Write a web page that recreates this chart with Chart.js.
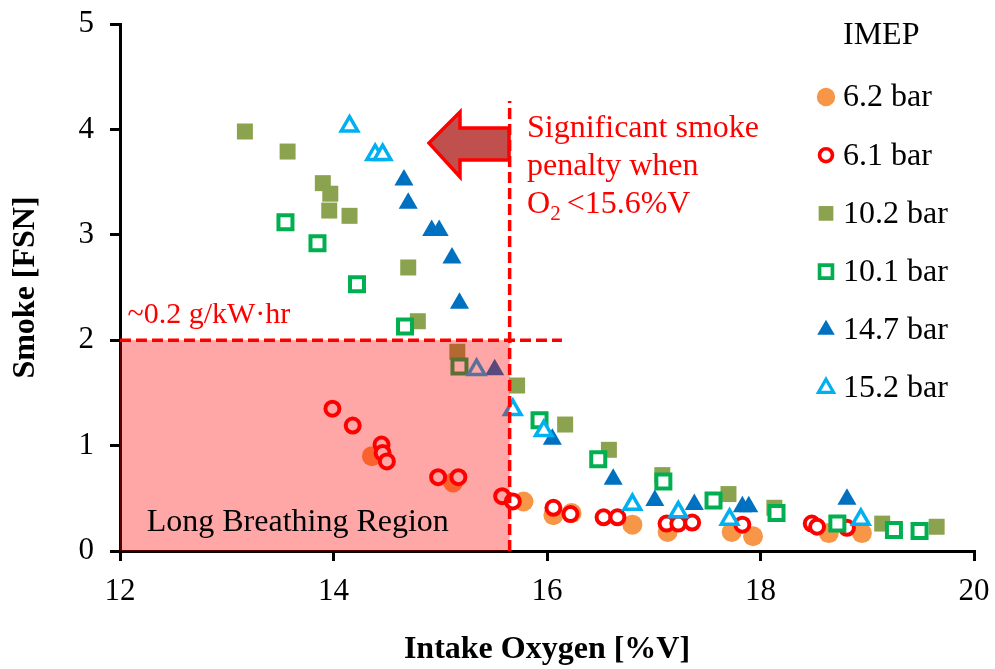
<!DOCTYPE html>
<html>
<head>
<meta charset="utf-8">
<script src="https://cdn.jsdelivr.net/npm/chart.js"></script>
<style>
  body { margin: 0; background: #fff; }
  #wrap { width: 995px; height: 669px; }
</style>
</head>
<body>
<div id="wrap"><canvas id="myChart" width="995" height="669"></canvas></div>
<script>
const SERIF = '"Times New Roman", "Liberation Serif", serif';

// IMEP series, intake O2 [%V] vs smoke [FSN]
const seriesNames = ["6.2 bar", "6.1 bar", "10.2 bar", "10.1 bar", "14.7 bar", "15.2 bar"];

const o2_62 = [14.36, 15.12, 15.78, 16.06, 16.23, 16.80, 17.13, 17.73, 17.93, 18.64, 18.95];
const smoke_62 = [0.90, 0.65, 0.47, 0.34, 0.36, 0.25, 0.18, 0.18, 0.14, 0.17, 0.17];

const o2_61 = [13.99, 14.18, 14.45, 14.46, 14.50, 14.98, 15.17, 15.58, 15.68, 16.06, 16.22, 16.53, 16.66, 17.12, 17.23, 17.36, 17.83, 18.48, 18.53, 18.81];
const smoke_61 = [1.35, 1.19, 1.01, 0.93, 0.85, 0.70, 0.70, 0.52, 0.47, 0.41, 0.35, 0.32, 0.32, 0.26, 0.26, 0.27, 0.25, 0.26, 0.23, 0.22];

const o2_102 = [13.17, 13.57, 13.90, 13.97, 13.96, 14.15, 14.70, 14.79, 15.16, 15.72, 16.17, 16.58, 17.08, 17.70, 18.13, 19.14, 19.65];
const smoke_102 = [3.98, 3.79, 3.49, 3.39, 3.23, 3.18, 2.69, 2.18, 1.89, 1.57, 1.20, 0.96, 0.72, 0.54, 0.41, 0.26, 0.23];

const o2_101 = [13.55, 13.85, 14.22, 14.67, 15.18, 15.93, 16.48, 17.09, 17.56, 18.15, 18.72, 19.25, 19.49];
const smoke_101 = [3.12, 2.92, 2.53, 2.13, 1.75, 1.24, 0.87, 0.66, 0.48, 0.36, 0.26, 0.20, 0.19];

const o2_147 = [14.66, 14.70, 14.92, 14.99, 15.11, 15.18, 15.51, 16.05, 16.62, 17.01, 17.38, 17.83, 17.89, 18.81];
const smoke_147 = [3.52, 3.30, 3.04, 3.04, 2.78, 2.35, 1.72, 1.06, 0.68, 0.48, 0.44, 0.42, 0.42, 0.49];

const o2_152 = [14.15, 14.39, 14.46, 15.34, 15.68, 15.97, 16.80, 17.23, 17.71, 18.94];
const smoke_152 = [4.03, 3.76, 3.76, 1.72, 1.34, 1.14, 0.44, 0.37, 0.30, 0.30];

const xTicks = [12, 14, 16, 18, 20];
const yTicks = [0, 1, 2, 3, 4, 5];

// thresholds used by the annotations
const limitO2 = 15.65;
const limitSmoke = 2;

const allX = [o2_62, o2_61, o2_102, o2_101, o2_147, o2_152];
const allY = [smoke_62, smoke_61, smoke_102, smoke_101, smoke_147, smoke_152];

const looks = [
  { style: "circle", r: 10, bg: "#F79646", border: "#F79646", bw: 0 },
  { style: "circle", r: 7, bg: "#FFFFFF", border: "#FF0000", bw: 4 },
  { style: "rect", r: 11.3, bg: "#8BA24E", border: "#8BA24E", bw: 0 },
  { style: "rect", r: 9.9, bg: "#FFFFFF", border: "#00B050", bw: 4 },
  { style: "triangle", r: 11, bg: "#0070C0", border: "#0070C0", bw: 0 },
  { style: "triangle", r: 9.5, bg: "#FFFFFF", border: "#00B0F0", bw: 3.5 },
];

const datasets = seriesNames.map((name, i) => ({
  label: name,
  data: allX[i].map((v, j) => ({ x: v, y: allY[i][j] })),
  pointStyle: looks[i].style,
  pointRadius: looks[i].r,
  pointBackgroundColor: looks[i].bg,
  pointBorderColor: looks[i].border,
  pointBorderWidth: looks[i].bw,
  showLine: false,
  clip: false,
  order: 10 - i,
}));

function marker(ctx, look, x, y, scale) {
  const r = look.r * scale;
  ctx.beginPath();
  if (look.style === "circle") {
    ctx.arc(x, y, r, 0, Math.PI * 2);
  } else if (look.style === "rect") {
    const s = Math.SQRT1_2 * r;
    ctx.rect(x - s, y - s, 2 * s, 2 * s);
  } else {
    let a = 0;
    ctx.moveTo(x + Math.sin(a) * r, y - Math.cos(a) * r);
    a += Math.PI * 2 / 3;
    ctx.lineTo(x + Math.sin(a) * r, y - Math.cos(a) * r);
    a += Math.PI * 2 / 3;
    ctx.lineTo(x + Math.sin(a) * r, y - Math.cos(a) * r);
    ctx.closePath();
  }
  ctx.fillStyle = look.bg;
  ctx.fill();
  if (look.bw > 0) {
    ctx.lineWidth = look.bw * scale;
    ctx.strokeStyle = look.border;
    ctx.stroke();
  }
}

const overlay = {
  id: "overlay",
  afterDatasetsDraw(chart) {
    const ctx = chart.ctx;
    const sx = chart.scales.x, sy = chart.scales.y;
    const px = v => sx.getPixelForValue(v);
    const py = v => sy.getPixelForValue(v);
    ctx.save();

    // long breathing region
    ctx.fillStyle = "rgba(255,0,0,0.35)";
    ctx.fillRect(px(12), py(limitSmoke), px(limitO2) - px(12), py(0) - py(limitSmoke));

    // dashed limits
    ctx.strokeStyle = "#FF0000";
    ctx.lineWidth = 3.5;
    ctx.setLineDash([11, 5]);
    ctx.beginPath();
    ctx.moveTo(px(12), py(limitSmoke));
    ctx.lineTo(px(16.14), py(limitSmoke));
    ctx.stroke();
    ctx.beginPath();
    ctx.moveTo(px(limitO2), py(0));
    ctx.lineTo(px(limitO2), py(4.27));
    ctx.stroke();
    ctx.setLineDash([]);

    // block arrow
    const arrow = [[14.895, 3.87], [15.185, 4.165], [15.185, 4.013], [15.644, 4.013],
                   [15.644, 3.71], [15.185, 3.71], [15.185, 3.548]];
    ctx.beginPath();
    arrow.forEach((p, i) => i ? ctx.lineTo(px(p[0]), py(p[1])) : ctx.moveTo(px(p[0]), py(p[1])));
    ctx.closePath();
    ctx.fillStyle = "#C0504D";
    ctx.fill();
    ctx.lineWidth = 3.5;
    ctx.lineJoin = "miter";
    ctx.strokeStyle = "#FF0000";
    ctx.stroke();

    // texts
    ctx.textBaseline = "alphabetic";
    ctx.textAlign = "left";
    ctx.fillStyle = "#FF0000";
    ctx.font = "32px " + SERIF;
    const tx = px(15.813);
    ctx.fillText("Significant smoke", tx, py(3.928));
    ctx.fillText("penalty when", tx, py(3.568));
    let x3 = tx;
    const b3 = py(3.208);
    ctx.fillText("O", x3, b3);
    x3 += ctx.measureText("O").width;
    ctx.font = "21px " + SERIF;
    ctx.fillText("2", x3, b3 + 7);
    x3 += ctx.measureText("2").width + 6;
    ctx.font = "32px " + SERIF;
    ctx.fillText("<15.6%V", x3, b3);

    ctx.font = "30px " + SERIF;
    ctx.fillText("~0.2 g/kW\u00B7hr", px(12.07), py(2.16));

    ctx.fillStyle = "#000";
    ctx.font = "32px " + SERIF;
    ctx.fillText("Long Breathing Region", px(12.25), py(0.19));

    // legend
    const a = chart.chartArea;
    const mx = a.right - 148, lx = a.right - 131;
    ctx.textBaseline = "middle";
    ctx.fillStyle = "#000";
    ctx.font = "32px " + SERIF;
    ctx.fillText("IMEP", lx, a.top + 12);
    seriesNames.forEach((name, i) => {
      const cy = a.top + 73 + i * 58.2;
      marker(ctx, looks[i], mx, cy, 0.92);
      ctx.fillStyle = "#000";
      ctx.font = "32px " + SERIF;
      ctx.fillText(name, lx, cy + 1);
    });
    ctx.restore();
  }
};

const axisCommon = {
  type: "linear",
  border: { display: true, color: "#000", width: 3 },
  grid: { drawOnChartArea: false, drawTicks: true, tickLength: 10, color: "#000", lineWidth: 3 },
};

const ctx = document.getElementById("myChart").getContext("2d");
const myChart = new Chart(ctx, {
  type: "scatter",
  data: { datasets: datasets },
  options: {
    responsive: false,
    animation: false,
    devicePixelRatio: 1,
    events: [],
    layout: { autoPadding: false, padding: { top: 24, right: 21, left: 0, bottom: 0 } },
    plugins: { legend: { display: false }, tooltip: { enabled: false } },
    scales: {
      x: {
        ...axisCommon,
        min: xTicks[0],
        max: xTicks[xTicks.length - 1],
        afterBuildTicks: s => { s.ticks = xTicks.map(v => ({ value: v })); },
        afterFit: s => { s.height = 118; s.paddingLeft = 0; s.paddingRight = 0; },
        ticks: { color: "#000", font: { family: SERIF, size: 31 }, padding: 12, maxRotation: 0 },
        title: { display: true, text: "Intake Oxygen [%V]", color: "#000",
                 font: { family: SERIF, size: 32, weight: "bold" }, padding: { top: 0, bottom: 0 } },
      },
      y: {
        ...axisCommon,
        min: yTicks[0],
        max: yTicks[yTicks.length - 1],
        afterBuildTicks: s => { s.ticks = yTicks.map(v => ({ value: v })); },
        afterFit: s => { s.width = 120; s.paddingTop = 0; s.paddingBottom = 0; },
        ticks: { color: "#000", font: { family: SERIF, size: 31 }, padding: 16 },
        title: { display: true, text: "Smoke [FSN]", color: "#000",
                 font: { family: SERIF, size: 32, weight: "bold" }, padding: { top: 7, bottom: 0 } },
      },
    },
  },
  plugins: [overlay],
});
</script>
</body>
</html>
